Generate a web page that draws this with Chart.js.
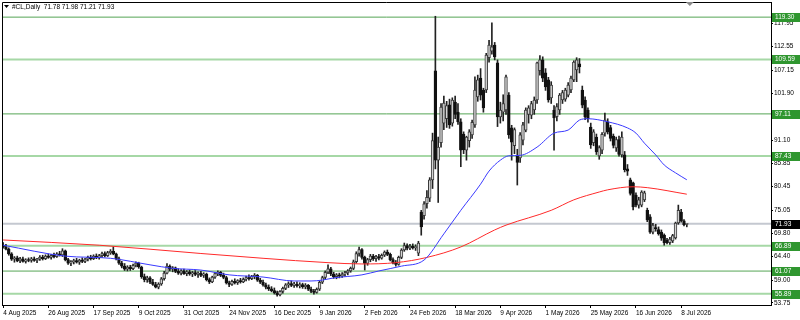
<!DOCTYPE html>
<html>
<head>
<meta charset="utf-8">
<script src="https://cdn.jsdelivr.net/npm/chart.js@4.4.1/dist/chart.umd.min.js"></script>
<style>
html, body { margin: 0; padding: 0; background: #fff; }
canvas { display: block; }
</style>
</head>
<body>
<canvas id="clChart" width="800" height="320"></canvas>
<script>
// header line of the chart window
const symbolTitle = '#CL,Daily  71.78 71.98 71.21 71.93';

// date labels, one every 16 daily bars
const dateLabels = ['4 Aug 2025', '26 Aug 2025', '17 Sep 2025', '9 Oct 2025', '31 Oct 2025', '24 Nov 2025',
    '16 Dec 2025', '9 Jan 2026', '2 Feb 2026', '24 Feb 2026', '18 Mar 2026', '9 Apr 2026', '1 May 2026',
    '25 May 2026', '16 Jun 2026', '8 Jul 2026'];
const labelStep = 16;

// price scale labels
const yTicks = [53.75, 59.00, 64.40, 69.80, 75.05, 80.45, 85.85, 91.10, 96.50, 101.90, 107.15, 112.55, 117.95];

// horizontal levels (strong = darker thin line)
const levels = [119.30, 109.59, 97.11, 87.43, 66.89, 61.07, 55.89];
const levelStrong = [true, false, true, false, false, true, false];
const lastPrice = 71.93;

// daily candles [open, high, low, close]
const candles = [
    // 0-19
    [66.9,67.6,66.3,66.6],[66.6,67.2,65.9,66.1],[66.1,66.4,64.7,65.0],[65.0,65.3,63.5,63.8],[63.8,64.4,63.1,64.1],
    [64.1,64.5,63.2,63.4],[63.4,64.2,63.0,63.9],[63.9,64.3,63.1,63.3],[63.3,63.9,62.9,63.6],[63.6,64.1,63.2,63.5],
    [63.5,64.2,63.1,63.9],[63.9,64.3,63.3,63.5],[63.5,64.0,63.0,63.8],[63.8,64.6,63.5,64.3],[64.3,64.7,63.6,63.9],
    [63.9,64.8,63.7,64.5],[64.5,65.0,64.0,64.2],[64.2,64.9,63.8,64.7],[64.7,65.2,64.1,64.4],[64.4,65.3,64.2,65.0],
    // 20-39
    [65.0,65.6,64.5,64.8],[64.8,66.2,64.4,65.7],[65.7,65.9,63.4,63.7],[63.7,64.0,62.6,62.9],[62.9,63.5,62.3,63.2],
    [63.2,63.8,62.7,63.5],[63.5,64.0,62.9,63.1],[63.1,63.8,62.6,63.6],[63.6,64.1,63.0,63.3],[63.3,64.0,63.0,63.8],
    [63.8,64.5,63.4,64.2],[64.2,64.7,63.6,63.9],[63.9,64.8,63.7,64.5],[64.5,65.0,63.9,64.1],[64.1,64.9,63.8,64.6],
    [64.6,65.4,64.2,65.1],[65.1,65.5,64.3,64.6],[64.6,65.6,64.4,65.3],[65.3,66.0,64.9,65.6],[65.6,66.6,64.8,65.0],
    // 40-59
    [65.0,65.2,63.6,63.9],[63.9,64.3,62.6,62.9],[62.9,63.3,61.8,62.2],[62.2,62.8,61.2,61.5],[61.5,62.3,61.1,62.0],
    [62.0,62.4,61.2,61.6],[61.6,62.7,61.4,62.4],[62.4,63.2,62.0,62.9],[62.9,63.1,61.7,62.0],[62.0,62.2,59.4,59.8],
    [59.8,60.4,58.6,59.1],[59.1,59.9,58.5,59.5],[59.5,59.8,58.2,58.5],[58.5,59.2,57.8,58.0],[58.0,58.5,57.2,57.4],
    [57.4,58.4,57.0,58.1],[58.1,59.6,57.8,59.3],[59.3,61.0,59.0,60.6],[60.6,62.8,60.4,62.2],[62.2,62.5,61.1,61.5],
    // 60-79
    [61.5,62.1,60.9,61.8],[61.8,62.0,60.7,61.0],[61.0,61.6,60.3,60.6],[60.6,61.4,60.2,61.1],[61.1,61.5,60.3,60.5],
    [60.5,61.2,60.0,60.9],[60.9,61.3,60.1,60.4],[60.4,61.0,59.8,60.7],[60.7,61.2,60.0,60.3],[60.3,60.9,59.6,60.6],
    [60.6,61.0,59.8,60.1],[60.1,60.7,59.6,60.4],[60.4,60.6,58.8,59.1],[59.1,59.5,58.2,58.6],[58.6,59.9,58.4,59.7],
    [59.7,60.8,59.4,60.5],[60.5,61.1,60.0,60.8],[60.8,61.0,59.8,60.1],[60.1,60.6,59.3,59.6],[59.6,59.9,58.1,58.4],
    // 80-99
    [58.4,58.8,57.5,58.0],[58.0,59.0,57.8,58.7],[58.7,59.3,58.1,58.4],[58.4,59.1,58.0,58.9],[58.9,59.4,58.3,58.6],
    [58.6,59.5,58.4,59.2],[59.2,59.9,58.8,59.6],[59.6,60.2,59.0,59.3],[59.3,60.1,59.1,59.8],[59.8,60.5,59.3,60.1],
    [60.1,60.3,58.7,59.0],[59.0,59.4,58.2,58.5],[58.5,59.0,57.6,57.9],[57.9,58.3,57.0,57.4],[57.4,57.9,56.6,57.0],
    [57.0,57.5,56.3,56.6],[56.6,57.2,55.8,56.1],[56.1,56.5,55.3,55.6],[55.6,56.6,55.4,56.4],[56.4,57.4,56.0,57.1],
    // 100-119
    [57.1,58.2,56.8,57.9],[57.9,58.6,57.3,58.2],[58.2,58.8,57.5,57.8],[57.8,58.5,57.3,58.1],[58.1,58.6,57.4,57.7],
    [57.7,58.4,57.2,58.0],[58.0,58.3,57.1,57.5],[57.5,58.2,57.0,57.8],[57.8,58.0,56.6,56.9],[56.9,57.4,56.1,56.4],
    [56.4,56.9,55.8,56.2],[56.2,57.2,56.0,56.9],[56.9,58.8,56.6,58.5],[58.5,59.9,58.2,59.6],[59.6,61.1,59.2,60.8],
    [60.8,62.5,60.5,61.6],[61.6,61.9,60.0,60.4],[60.4,60.8,59.4,59.8],[59.8,60.5,59.3,60.2],[60.2,60.6,59.5,59.9],
    // 120-139
    [59.9,60.7,59.6,60.4],[60.4,61.0,59.9,60.7],[60.7,61.4,60.2,61.1],[61.1,62.0,60.8,61.7],[61.7,63.6,61.4,63.2],
    [63.2,65.5,62.9,65.1],[65.1,66.6,64.5,66.0],[66.0,66.2,63.8,64.2],[64.2,64.5,61.3,62.8],[62.8,64.0,62.4,63.7],
    [63.7,64.9,63.2,64.5],[64.5,64.9,63.5,63.9],[63.9,64.7,63.3,64.4],[64.4,64.9,63.6,64.0],[64.0,65.0,63.8,64.7],
    [64.7,65.7,64.4,65.4],[65.4,65.9,64.6,64.9],[64.9,65.2,63.4,63.7],[63.7,64.1,62.7,63.0],[63.0,63.5,62.2,62.6],
    // 140-159
    [62.6,64.5,62.4,64.2],[64.2,66.2,63.9,65.9],[65.9,67.5,65.6,66.9],[66.9,67.3,65.9,66.3],[66.3,67.2,66.0,66.8],
    [66.8,67.3,66.1,66.4],[66.4,67.1,65.8,66.7],[65.2,67.9,64.6,67.5],[74.6,75.0,69.3,71.2],[73.8,77.0,73.0,76.5],
    [76.5,79.5,75.5,78.0],[77.8,82.5,77.0,82.0],[82.0,92.7,80.0,91.0],[107.0,119.5,84.5,86.5],[86.5,91.8,76.8,89.5],
    [90.5,99.5,89.5,98.7],[95.0,101.2,93.5,99.6],[96.0,100.0,94.0,99.0],[99.2,100.5,93.8,94.6],[95.0,100.8,94.3,100.3],
    // 160-179
    [99.8,101.2,96.0,97.0],[97.5,99.5,94.7,95.3],[95.3,96.0,85.0,88.8],[92.5,93.0,88.0,88.9],[88.8,92.0,86.5,91.8],
    [91.0,93.5,89.5,93.0],[92.3,95.7,91.5,95.2],[94.6,105.6,94.0,102.6],[101.0,106.0,100.0,104.9],[105.3,107.5,100.3,101.4],
    [102.6,103.0,97.5,98.5],[102.6,111.0,102.0,110.6],[110.0,114.0,109.0,112.9],[111.5,118.0,110.8,112.5],[112.9,113.5,109.5,110.2],
    [108.8,109.5,94.2,96.4],[96.4,99.8,95.0,98.0],[97.5,101.5,95.5,99.5],[98.0,106.0,97.0,105.6],[101.4,102.0,91.5,92.3],
    // 180-199
    [93.9,94.5,86.5,90.6],[89.8,93.9,88.0,93.5],[87.6,89.0,80.8,86.0],[87.0,92.8,86.0,92.3],[91.1,95.2,90.0,94.6],
    [93.4,98.5,93.0,98.0],[97.0,99.0,95.0,98.5],[96.8,100.0,96.0,99.5],[98.0,101.0,97.0,100.3],[100.3,109.0,99.5,108.8],
    [107.0,110.5,106.0,109.5],[109.5,110.2,104.5,105.3],[106.5,107.5,102.5,103.3],[104.9,105.5,99.8,100.3],[100.8,104.5,99.5,103.7],
    [98.0,99.0,88.8,96.2],[96.5,99.5,95.5,98.8],[98.0,101.8,97.0,101.4],[100.3,102.5,99.5,102.0],[100.5,103.0,100.0,102.6],
    // 200-219
    [101.4,104.3,101.0,103.7],[102.6,105.8,102.0,105.3],[104.9,109.3,104.5,109.0],[107.2,110.0,104.5,109.5],[108.6,109.8,106.5,107.9],
    [102.6,103.5,98.5,99.1],[100.3,101.0,95.8,96.4],[98.0,98.5,95.2,96.0],[94.1,95.0,89.2,90.0],[90.5,93.5,89.8,93.0],
    [91.8,92.5,87.8,88.4],[87.5,89.8,86.7,89.4],[88.8,92.8,88.0,92.4],[92.7,97.3,92.0,95.7],[95.3,96.0,92.5,93.0],
    [94.0,94.5,90.9,91.5],[92.0,92.5,89.3,89.9],[89.3,91.8,88.5,91.2],[91.2,92.0,87.4,87.8],[87.7,93.0,87.2,91.8],
    // 220-242
    [87.7,88.5,83.8,84.3],[84.5,85.5,83.0,84.0],[82.0,82.4,78.5,78.9],[81.3,81.5,75.1,75.8],[78.5,79.0,75.8,76.2],
    [76.2,78.0,75.5,77.4],[76.2,79.5,75.8,79.2],[77.4,79.4,77.0,79.0],[75.0,75.5,72.4,72.8],[73.5,74.0,69.7,70.0],
    [70.0,72.0,69.6,71.6],[71.0,71.8,70.2,70.8],[70.6,71.2,69.3,69.6],[70.0,70.5,68.1,68.6],[69.3,69.6,67.0,67.5],
    [68.2,68.6,67.3,67.6],[67.6,68.8,67.2,68.4],[68.0,69.5,67.6,69.2],[68.7,72.3,68.4,72.1],[72.1,76.2,71.8,75.0],
    [74.6,75.2,72.3,72.6],[72.6,72.9,71.4,71.7],[71.78,71.98,71.21,71.93]
];

// moving averages at some bars
const blueBars = [0, 22, 38, 52, 60, 70, 80, 92, 103, 109, 113, 117, 127, 133, 141, 149, 156, 162, 169, 172,
    176, 179, 183, 189, 195, 200, 204, 207, 214, 221, 224, 227, 231, 234, 238, 242];
const blueMA = [67.0, 64.5, 64.0, 62.5, 61.7, 61.3, 60.2, 59.7, 58.8, 58.8, 59.0, 59.5, 60.2, 61.1, 62.2, 63.6,
    69.6, 75.0, 81.0, 84.0, 86.5, 87.5, 87.6, 89.5, 92.7, 93.4, 95.7, 96.0, 95.3, 93.9, 92.7, 90.4, 87.7, 85.4, 83.6, 82.0];
const redBars = [0, 34, 70, 92, 115, 127, 139, 150, 162, 174, 178, 194, 202, 211, 214, 223, 228, 242];
const redMA = [68.2, 67.0, 65.1, 64.0, 63.0, 62.7, 63.0, 64.2, 66.6, 70.5, 71.6, 75.0, 77.4, 79.2, 79.7, 80.4, 80.2, 78.7];

const xMin = -0.4, xMax = 271.8;
const yMin = 53.29, yMax = 122.77;
const fontFamily = '"Liberation Sans", Arial, sans-serif';

const wickData = candles.map((c, i) => ({x: i, y: [c[2], c[1]]}));
const bodyData = candles.map((c, i) => ({x: i, y: [c[0], c[3]]}));
const isBull = candles.map(c => c[3] >= c[0]);

const levelSets = levels.map((v, i) => ({
    type: 'line',
    data: [{x: xMin, y: v}, {x: xMax, y: v}],
    borderColor: levelStrong[i] ? '#55a555' : '#a6d8a6',
    borderWidth: levelStrong[i] ? 1 : 2,
    pointRadius: 0,
    order: 10
}));

const overlay = {
    id: 'overlay',
    afterDraw(chart) {
        const {ctx, chartArea: a, scales: {x, y}} = chart;
        ctx.save();
        // frame (left and top)
        ctx.strokeStyle = '#000';
        ctx.lineWidth = 1;
        ctx.beginPath();
        ctx.moveTo(a.left + 0.5, a.bottom);
        ctx.lineTo(a.left + 0.5, a.top + 0.5);
        ctx.lineTo(a.right, a.top + 0.5);
        ctx.stroke();
        // chart shift marker
        const sx = x.getPixelForValue(242) + 3;
        ctx.fillStyle = '#8a8a8a';
        ctx.beginPath();
        ctx.moveTo(sx - 4, a.top);
        ctx.lineTo(sx + 4, a.top);
        ctx.lineTo(sx, a.top + 4);
        ctx.fill();
        // title
        ctx.fillStyle = '#000';
        ctx.beginPath();
        ctx.moveTo(4, 5);
        ctx.lineTo(9, 5);
        ctx.lineTo(6.5, 8);
        ctx.fill();
        ctx.font = '6.5px ' + fontFamily;
        ctx.textBaseline = 'middle';
        ctx.textAlign = 'left';
        ctx.fillText(symbolTitle, 12, 7);
        // price boxes on the scale
        const box = (v, color) => {
            const py = Math.round(y.getPixelForValue(v));
            ctx.fillStyle = color;
            ctx.fillRect(a.right + 1, py - 4, 28, 9);
            ctx.fillStyle = '#fff';
            ctx.fillText(v.toFixed(2), a.right + 4, py + 0.5);
        };
        levels.forEach(v => box(v, '#2f962f'));
        box(lastPrice, '#000');
        ctx.restore();
    }
};

new Chart(document.getElementById('clChart'), {
    type: 'bar',
    data: {
        datasets: [
            {
                type: 'line', data: blueBars.map((b, i) => ({x: b, y: blueMA[i]})),
                borderColor: '#3a3aff', borderWidth: 1, pointRadius: 0,
                cubicInterpolationMode: 'monotone', order: 0
            },
            {
                type: 'line', data: redBars.map((b, i) => ({x: b, y: redMA[i]})),
                borderColor: '#ff2a2a', borderWidth: 1, pointRadius: 0,
                cubicInterpolationMode: 'monotone', order: 0
            },
            {
                data: bodyData, grouped: false, order: 1,
                barPercentage: 1, categoryPercentage: 1, maxBarThickness: 2.8, minBarLength: 1,
                backgroundColor: ctx => isBull[ctx.dataIndex] ? '#d4d4d4' : '#111',
                borderColor: ctx => isBull[ctx.dataIndex] ? '#3a3a3a' : '#111',
                borderWidth: 1, borderSkipped: false
            },
            {
                data: wickData, grouped: false, order: 2,
                barPercentage: 1, categoryPercentage: 1, maxBarThickness: 1,
                backgroundColor: '#222', borderWidth: 0
            },
            {
                type: 'line', data: [{x: xMin, y: lastPrice}, {x: xMax, y: lastPrice}],
                borderColor: '#c4c8d0', borderWidth: 2, pointRadius: 0, order: 9
            },
            ...levelSets
        ]
    },
    options: {
        responsive: false,
        animation: false,
        devicePixelRatio: 1,
        layout: {padding: {left: 2, top: 2, right: 0, bottom: 0}},
        plugins: {legend: {display: false}, tooltip: {enabled: false}},
        scales: {
            x: {
                type: 'linear', min: xMin, max: xMax, offset: false,
                afterBuildTicks: s => { s.ticks = dateLabels.map((_, i) => ({value: i * labelStep})); },
                afterFit: s => { s.height = 15; s.paddingLeft = 0; s.paddingRight = 0; },
                grid: {drawOnChartArea: false, offset: false, tickLength: 3, color: '#000'},
                border: {color: '#000'},
                ticks: {
                    autoSkip: false, maxRotation: 0, align: 'start', padding: 1, color: '#000',
                    font: {family: fontFamily, size: 6.5},
                    callback: (v, i) => dateLabels[i]
                }
            },
            y: {
                position: 'right', min: yMin, max: yMax,
                afterBuildTicks: s => { s.ticks = yTicks.map(v => ({value: v})); },
                afterFit: s => { s.width = 29; s.paddingTop = 0; s.paddingBottom = 0; },
                grid: {drawOnChartArea: false, tickLength: 2, color: '#000'},
                border: {color: '#000'},
                ticks: {
                    padding: 1, color: '#000',
                    font: {family: fontFamily, size: 6.5},
                    callback: v => v.toFixed(2)
                }
            }
        }
    },
    plugins: [overlay]
});
</script>
</body>
</html>
